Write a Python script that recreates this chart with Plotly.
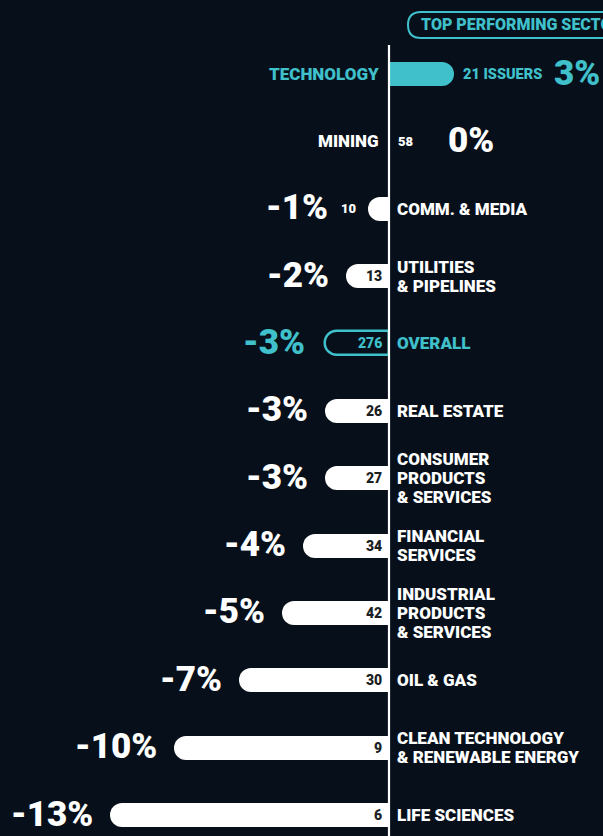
import plotly.graph_objects as go

sectors = ["TECHNOLOGY", "MINING", "COMM. & MEDIA", "UTILITIES<br>& PIPELINES", "OVERALL",
           "REAL ESTATE", "CONSUMER<br>PRODUCTS<br>& SERVICES", "FINANCIAL<br>SERVICES",
           "INDUSTRIAL<br>PRODUCTS<br>& SERVICES", "OIL & GAS",
           "CLEAN TECHNOLOGY<br>& RENEWABLE ENERGY", "LIFE SCIENCES"]
returns = [3, 0, -1, -2, -3, -3, -3, -4, -5, -7, -10, -13]
issuers = [21, 58, 10, 13, 276, 26, 27, 34, 42, 30, 9, 6]
title_text = "TOP PERFORMING SECTOR"

BG = "#07101a"
TEAL = "#3fc0cb"
WHITE = "#ffffff"
DARK = "#1c1f24"
FONT = "Roboto"
WT = 900

W, H = 603, 836
ys = list(range(len(sectors)))

colors, lcolors, lwidths = [], [], []
for s, v in zip(sectors, returns):
    if s == "OVERALL":
        colors.append(BG); lcolors.append(TEAL); lwidths.append(2.5)
    elif v > 0:
        colors.append(TEAL); lcolors.append(TEAL); lwidths.append(0)
    else:
        colors.append(WHITE); lcolors.append(WHITE); lwidths.append(0)

fig = go.Figure()
fig.add_trace(go.Bar(
    x=returns, y=ys, orientation="h", width=0.356,
    marker=dict(color=colors, line=dict(color=lcolors, width=lwidths), cornerradius=12),
    hoverinfo="skip", showlegend=False,
))

LAB = 17
CNT = 14.5
PCT = 35
LINE_H = 19


def f(size, color):
    return dict(size=size, color=color, family=FONT, weight=WT)


ann = []


def add_label(i, text, color, left):
    lines = text.split("<br>")
    k = len(lines)
    for j, ln in enumerate(lines):
        dy = ((k - 1) / 2 - j) * LINE_H
        if left:
            ann.append(dict(x=0, y=i, text=ln, xanchor="left", xshift=7, yshift=dy,
                            font=f(LAB, color), borderpad=0))
        else:
            ann.append(dict(x=0, y=i, text=ln, xanchor="right", xshift=-9, yshift=dy,
                            font=f(LAB, color), borderpad=0))


for i, (s, v, n) in enumerate(zip(sectors, returns, issuers)):
    is_overall = s == "OVERALL"
    is_top = v > 0
    lab_col = TEAL if (is_overall or is_top) else WHITE
    pct = f"{v}%"
    if v > 0:
        add_label(i, s, TEAL, left=False)
        ann.append(dict(x=v, y=i, text=f"{n} ISSUERS", xanchor="left", xshift=7,
                        font=f(CNT, TEAL)))
        ann.append(dict(x=v, y=i, text=pct, xanchor="left", xshift=98, yshift=1,
                        font=f(PCT, TEAL)))
    elif v == 0:
        add_label(i, s, WHITE, left=False)
        ann.append(dict(x=0, y=i, text=str(n), xanchor="left", xshift=7,
                        font=f(CNT - 1.5, WHITE)))
        ann.append(dict(x=0, y=i, text=pct, xanchor="left", xshift=57, yshift=1,
                        font=f(PCT, WHITE)))
    else:
        add_label(i, s, lab_col, left=True)
        bar_px = abs(v) * 21.5
        if bar_px < 30:
            ann.append(dict(x=v, y=i, text=str(n), xanchor="right", xshift=-10,
                            font=f(CNT - 1.5, WHITE)))
            shift = -38
        else:
            ann.append(dict(x=0, y=i, text=str(n), xanchor="right", xshift=-5,
                            font=f(CNT - 0.5, TEAL if is_overall else DARK)))
            shift = -18 if is_overall else -15
        ann.append(dict(x=v, y=i, text=pct, xanchor="right", xshift=shift, yshift=1,
                        font=f(PCT, lab_col)))

for a in ann:
    a.update(showarrow=False, xref="x", yref="y", yanchor="middle")


def px(xp, yp):
    return xp / W, 1 - yp / H


def P(a, b):
    fx, fy = px(a, b)
    return f"{fx:.5f},{fy:.5f}"


# rounded title box (left end round, right end off-canvas)
x0, x1, y0, y1, r = 408, 640, 12, 38, 13
path = (f"M {P(x0 + r, y0)} L {P(x1, y0)} L {P(x1, y1)} L {P(x0 + r, y1)} "
        f"Q {P(x0, y1)} {P(x0, (y0 + y1) / 2)} Q {P(x0, y0)} {P(x0 + r, y0)} Z")

fx, fy = px(419, 25)
ann.append(dict(x=fx, y=fy, xref="paper", yref="paper", text=title_text, showarrow=False,
                xanchor="left", yanchor="middle", font=f(16, TEAL)))

fig.update_layout(
    width=W, height=H,
    margin=dict(l=0, r=0, t=0, b=0),
    paper_bgcolor=BG, plot_bgcolor=BG,
    xaxis=dict(range=[-389 / 21.5, (W - 389) / 21.5], visible=False, fixedrange=True),
    yaxis=dict(range=[11 + 21 / 67.36, -74 / 67.36], visible=False, fixedrange=True),
    annotations=ann,
    shapes=[
        dict(type="line", xref="x", yref="y", x0=0, x1=0, y0=(45 - 74) / 67.36,
             y1=11 + 21 / 67.36, line=dict(color=WHITE, width=2.2), layer="above"),
        dict(type="path", xref="paper", yref="paper", path=path,
             line=dict(color=TEAL, width=2), fillcolor="rgba(0,0,0,0)"),
    ],
    bargap=0,
)

fig.write_html(
    "out.html",
    config={"displayModeBar": False},
    post_script="document.body.style.margin='0';document.body.style.background='#07101a';"
                "document.body.style.overflow='hidden';",
)
